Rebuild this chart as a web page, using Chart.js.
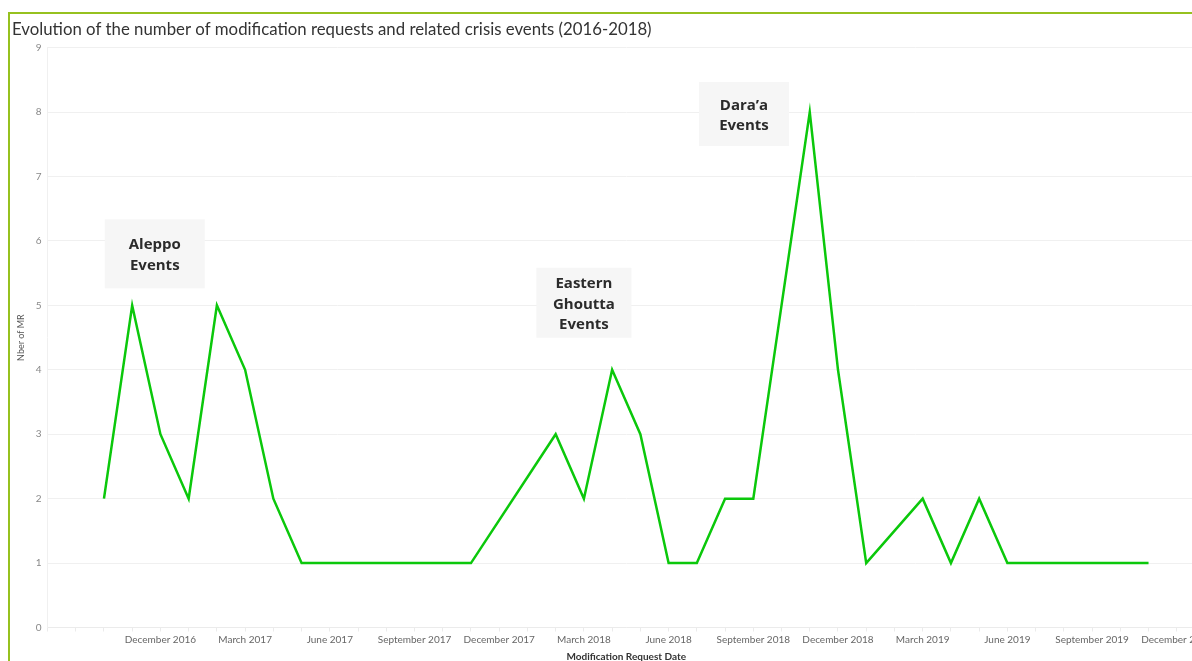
<!DOCTYPE html>
<html>
<head>
<meta charset="utf-8">
<script src="https://cdn.jsdelivr.net/npm/chart.js@4.4.1/dist/chart.umd.min.js"></script>
<style>
  html, body { margin: 0; padding: 0; background: #fff; overflow: hidden; }
  #wrap { position: absolute; left: 0; top: 0; width: 1207px; height: 661px; }
  .frameTop { position: absolute; left: 8px; top: 12px; width: 1184px; height: 2px; background: #96c11f; }
  .frameLeft { position: absolute; left: 8px; top: 12px; width: 2px; height: 649px; background: #96c11f; }
</style>
</head>
<body>
<div id="wrap"><canvas id="grafico"></canvas></div>
<div class="frameTop"></div>
<div class="frameLeft"></div>
<script>
/* Meses del eje X (agosto 2016 - enero 2020) */
var meses = [
  'August 2016', 'September 2016', 'October 2016', 'November 2016', 'December 2016',
  'January 2017', 'February 2017', 'March 2017', 'April 2017', 'May 2017', 'June 2017',
  'July 2017', 'August 2017', 'September 2017', 'October 2017', 'November 2017', 'December 2017',
  'January 2018', 'February 2018', 'March 2018', 'April 2018', 'May 2018', 'June 2018',
  'July 2018', 'August 2018', 'September 2018', 'October 2018', 'November 2018', 'December 2018',
  'January 2019', 'February 2019', 'March 2019', 'April 2019', 'May 2019', 'June 2019',
  'July 2019', 'August 2019', 'September 2019', 'October 2019', 'November 2019', 'December 2019',
  'January 2020'
];
/* Número de solicitudes de modificación por mes (null = sin dato) */
var solicitudes = [
  null, null, 2, 5, 3,
  2, 5, 4, 2, 1, 1,
  1, 1, 1, 1, 1, null,
  null, 3, 2, 4, 3, 1,
  1, 2, 2, 5, 8, 4,
  1, null, 2, 1, 2, 1,
  1, 1, 1, 1, 1, null,
  null
];
/* Etiquetas visibles del eje X */
var etiquetasX = [
  'December 2016', 'March 2017', 'June 2017', 'September 2017', 'December 2017',
  'March 2018', 'June 2018', 'September 2018', 'December 2018', 'March 2019',
  'June 2019', 'September 2019', 'December 2019'
];
var valoresY = [0, 1, 2, 3, 4, 5, 6, 7, 8, 9];

/* Anotaciones: texto, posición en índice de mes y valor */
var notas = [
  { texto: ['Aleppo', 'Events'], mes: 3.8, valor: 5.8, ancho: 100, alto: 69 },
  { texto: ['Eastern', 'Ghoutta', 'Events'], mes: 19.0, valor: 5.04, ancho: 95, alto: 70 },
  { texto: ['Dara\u2019a', 'Events'], mes: 24.67, valor: 7.97, ancho: 90, alto: 64 }
];

var pluginNotas = {
  id: 'notas',
  afterDraw: function(chart) {
    var ctx = chart.ctx;
    var x = chart.scales.x, y = chart.scales.y;
    ctx.save();
    notas.forEach(function(n) {
      var cx = x.getPixelForValue(n.mes);
      var cy = y.getPixelForValue(n.valor);
      ctx.fillStyle = '#f6f6f6';
      ctx.fillRect(cx - n.ancho / 2, cy - n.alto / 2, n.ancho, n.alto);
      ctx.fillStyle = '#2b2b2b';
      ctx.font = 'bold 15px "Open Sans"';
      ctx.textAlign = 'center';
      ctx.textBaseline = 'middle';
      var paso = 20.5;
      var y0 = cy - (n.texto.length - 1) * paso / 2 + 1.5;
      n.texto.forEach(function(t, i) {
        ctx.fillText(t, cx, y0 + i * paso);
      });
    });
    ctx.restore();
  }
};

var ctx = document.getElementById('grafico');
var grafico = new Chart(ctx, {
  type: 'line',
  data: {
    labels: meses,
    datasets: [{
      label: 'Nber of MR',
      data: solicitudes,
      borderColor: '#0bc80b',
      borderWidth: 2.5,
      pointRadius: 0,
      tension: 0,
      spanGaps: true,
      fill: false
    }]
  },
  options: {
    responsive: true,
    maintainAspectRatio: false,
    animation: false,
    layout: { padding: { left: 12, right: 0, top: 0, bottom: 0 } },
    plugins: {
      legend: { display: false },
      tooltip: { enabled: false },
      title: {
        display: true,
        text: 'Evolution of the number of modification requests and related crisis events (2016-2018)',
        align: 'start',
        color: '#333',
        font: { family: 'Lato', size: 16.8, weight: 'normal' },
        padding: { top: 20, bottom: 7.5 }
      }
    },
    scales: {
      x: {
        offset: false,
        border: { color: '#ebebeb' },
        grid: { drawOnChartArea: false, drawTicks: true, tickLength: 4, color: '#ebebeb' },
        ticks: {
          autoSkip: false,
          maxRotation: 0,
          padding: 2,
          color: '#666',
          font: { family: 'Lato', size: 10 },
          callback: function(v, i) {
            return etiquetasX.indexOf(meses[i]) >= 0 ? meses[i] : '';
          }
        },
        title: {
          display: true,
          text: 'Modification Request Date',
          color: '#333',
          font: { family: 'Lato', size: 10, weight: 'bold', lineHeight: 1 },
          padding: { top: 0, bottom: -1 }
        },
        afterFit: function(scale) { scale.height = 33.5; }
      },
      y: {
        min: 0,
        max: 9,
        border: { color: '#f0f0f0' },
        grid: { color: '#f0f0f0', drawTicks: false },
        afterBuildTicks: function(scale) {
          scale.ticks = valoresY.map(function(v) { return { value: v }; });
        },
        ticks: {
          padding: 6,
          color: '#888',
          font: { family: 'Lato', size: 10 }
        },
        title: {
          display: true,
          text: 'Nber of MR',
          color: '#555',
          font: { family: 'Lato', size: 9 },
          padding: { top: 4, bottom: 0 }
        },
        afterFit: function(scale) { scale.width = 35.5; }
      }
    }
  },
  plugins: [pluginNotas]
});
</script>
</body>
</html>
